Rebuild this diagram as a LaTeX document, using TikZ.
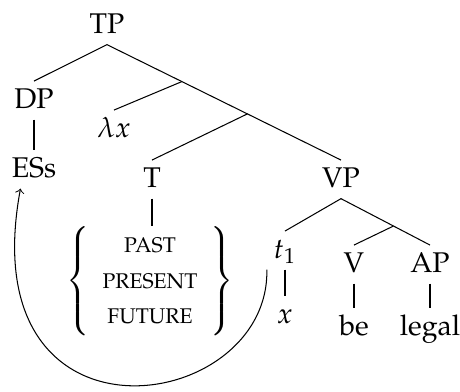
\documentclass[tikz,border=0pt]{standalone}
\usepackage[T1]{fontenc}
\usepackage{mathpazo}
\usepackage{amsmath}
\usepackage{tikz}
\usetikzlibrary{arrows}

\newcommand{\tns}[1]{\text{\fontsize{8.2}{10}\selectfont #1}}
\tikzset{cat/.style={anchor=base,font=\fontsize{11}{13}\selectfont,inner sep=2.5pt,text height=7.7pt,text depth=1.8pt}}

\begin{document}
\begin{tikzpicture}[x=0.01356cm,y=-0.01356cm]
    \useasboundingbox (0,0) rectangle (460,392);
    \node[cat] (TP) at (107,33) {TP};
    \node[cat] (DP) at (34,108) {DP};
    \node[cat] (ESs) at (34,177) {ESs};
    \node[cat] (lx) at (114,137) {$\lambda x$};
    \node[cat] (T) at (152,187) {T};
    \node[cat] (VP) at (341,187) {VP};
    \node[inner sep=0pt] (tense) at (150,281) {\renewcommand{\arraystretch}{1.15}$\left\{\begin{array}{c}\tns{PAST}\\ \tns{PRESENT}\\ \tns{FUTURE}\end{array}\right\}$};
    \node[cat] (t1) at (285,258) {$t_1$};
    \node[cat] (x) at (285,323) {$x$};
    \node[cat] (V) at (354,272) {V};
    \node[cat] (AP) at (430,272) {AP};
    \node[cat] (be) at (354,335) {be};
    \node[cat] (legal) at (430,335) {legal};
    % tree
    \draw (TP.south) -- (DP.north);
    \draw (TP.south) -- coordinate[pos=.32] (b1) coordinate[pos=.6] (b2) (VP.north);
    \draw (b1) -- (lx.north);
    \draw (b2) -- (T.north);
    \draw (DP.south) -- (ESs.north);
    \draw (T.south) -- (T.south |- tense.north);
    \draw (VP.south) -- (t1.north);
    \draw (VP.south) -- coordinate[pos=.59] (b3) (AP.north);
    \draw (b3) -- (V.north);
    \draw (t1.south) -- (x.north);
    \draw (V.south) -- (be.north);
    \draw (AP.south) -- (legal.north);
    % movement
    \draw[->] (t1.south west) .. controls (270,415) and (-30,460) .. (ESs.235);
  \end{tikzpicture}
\end{document}
